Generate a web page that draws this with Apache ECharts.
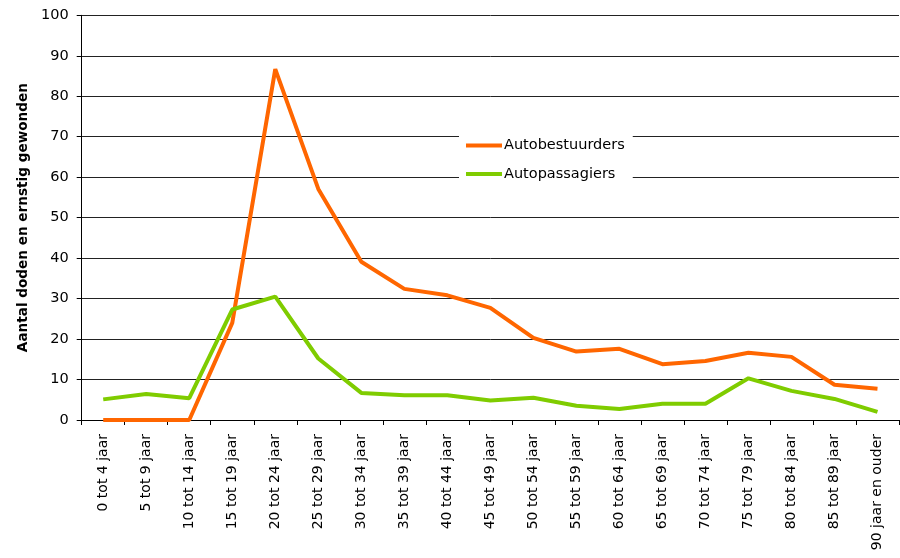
<!DOCTYPE html>
<html>
<head>
<meta charset="utf-8">
<script src="https://cdn.jsdelivr.net/npm/echarts@6/dist/echarts.min.js"></script>
<style>html,body{margin:0;padding:0;background:#fff}#c{width:900px;height:558px}</style>
</head>
<body>
<div id="c"></div>
<script>
const categories = ['0 tot 4 jaar','5 tot 9 jaar','10 tot 14 jaar','15 tot 19 jaar','20 tot 24 jaar','25 tot 29 jaar','30 tot 34 jaar','35 tot 39 jaar','40 tot 44 jaar','45 tot 49 jaar','50 tot 54 jaar','55 tot 59 jaar','60 tot 64 jaar','65 tot 69 jaar','70 tot 74 jaar','75 tot 79 jaar','80 tot 84 jaar','85 tot 89 jaar','90 jaar en ouder'];
const autobestuurders = [0,0,0,24,86.7,57.1,39.1,32.4,30.8,27.7,20.3,16.9,17.6,13.8,14.6,16.6,15.6,8.7,7.7];
const autopassagiers = [5.1,6.4,5.4,27.3,30.5,15.2,6.7,6.1,6.1,4.8,5.5,3.5,2.7,4.0,4.0,10.3,7.2,5.2,2.0];
const yTicks = {min:0, max:100, interval:10};
const seriesNames = ['Autobestuurders','Autopassagiers'];

const chart = echarts.init(document.getElementById('c'), null, {renderer:'canvas'});
const font = '"DejaVu Sans", Verdana, sans-serif';
chart.setOption({
  animation:false,
  backgroundColor:'#fff',
  grid:{left:81.7, right:1, top:15.3, bottom:138, containLabel:false},
  legend:{
    left:459, top:132, orient:'vertical', backgroundColor:'#fff',
    padding:[5,8,5,7], itemGap:11.5, itemWidth:36, itemHeight:4, icon:'rect',
    textStyle:{fontFamily:font, fontSize:14.5, color:'#000', padding:[0,0,0,-3], lineHeight:17},
    data:seriesNames
  },
  xAxis:{
    type:'category', data:categories, boundaryGap:true,
    axisLine:{lineStyle:{color:'#000', width:1}},
    axisTick:{show:true, length:5, lineStyle:{color:'#000'}},
    axisLabel:{rotate:90, interval:0, margin:14, fontFamily:font, fontSize:14, color:'#000'}
  },
  yAxis:{
    type:'value', min:yTicks.min, max:yTicks.max, interval:yTicks.interval,
    name:'Aantal doden en ernstig gewonden', nameLocation:'middle', nameGap:47,
    nameTextStyle:{fontFamily:font, fontSize:13.6, fontWeight:'bold', color:'#000'},
    axisLine:{show:true, lineStyle:{color:'#000', width:1}},
    axisTick:{show:true, length:5, inside:false, lineStyle:{color:'#000'}},
    axisLabel:{margin:13, fontFamily:font, fontSize:14.5, color:'#000'},
    splitLine:{show:true, lineStyle:{color:'#222', width:1}}
  },
  series:[
    {name:seriesNames[0], type:'line', data:autobestuurders, symbol:'none', color:'#ff6600',
     lineStyle:{width:4, color:'#ff6600'}},
    {name:seriesNames[1], type:'line', data:autopassagiers, symbol:'none', color:'#7fcc00',
     lineStyle:{width:4, color:'#7fcc00'}}
  ]
});
</script>
</body>
</html>
